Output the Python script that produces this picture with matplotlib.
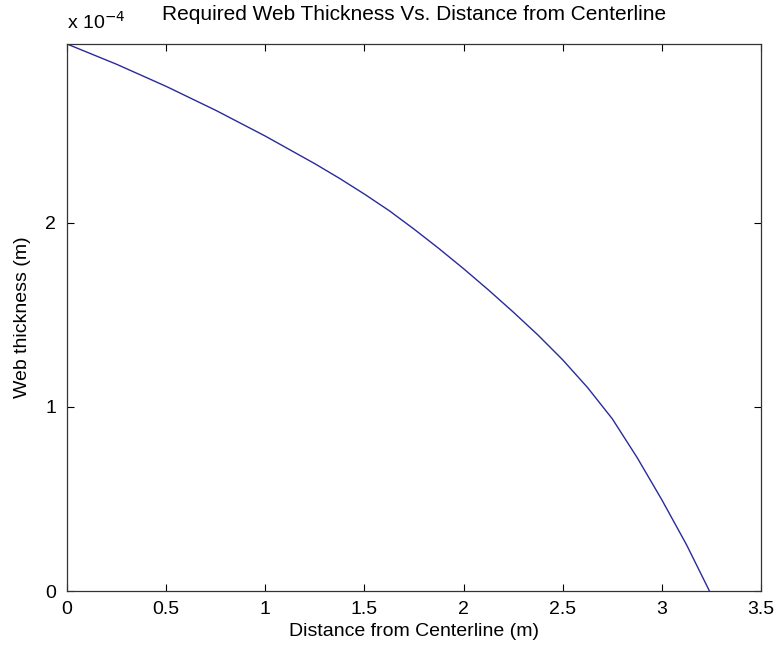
import matplotlib.pyplot as plt
import numpy as np

# distance from centerline (m) and required web thickness (x 1e-4 m)
distance = [0, 0.125, 0.25, 0.375, 0.5, 0.625, 0.75, 0.875, 1.0, 1.125, 1.25, 1.375,
            1.5, 1.625, 1.75, 1.875, 2.0, 2.125, 2.25, 2.375, 2.5, 2.625, 2.75,
            2.875, 3.0, 3.125, 3.24]
thickness = [2.970, 2.915, 2.860, 2.800, 2.740, 2.675, 2.610, 2.540, 2.470, 2.395,
             2.320, 2.240, 2.155, 2.065, 1.965, 1.860, 1.750, 1.635, 1.515, 1.390,
             1.255, 1.105, 0.935, 0.725, 0.495, 0.250, 0.0]

x_ticks = [0, 0.5, 1, 1.5, 2, 2.5, 3, 3.5]
x_tick_labels = ['0', '0.5', '1', '1.5', '2', '2.5', '3', '3.5']
y_ticks = [0, 1, 2]
y_tick_labels = ['0', '1', '2']

plt.rcParams['font.family'] = ['Liberation Sans', 'DejaVu Sans']

fig = plt.figure(figsize=(7.77, 6.49), dpi=100)
ax = fig.add_axes([67/777, 58/649, 694/777, 547/649])

ax.plot(distance, thickness, color='#2a2a9a', linewidth=1.0)

ax.set_xlim(0, 3.5)
ax.set_ylim(0, 2.97)
ax.set_xticks(x_ticks)
ax.set_xticklabels(x_tick_labels)
ax.set_yticks(y_ticks)
ax.set_yticklabels(y_tick_labels)
ax.tick_params(axis='x', pad=7)
ax.tick_params(axis='y', pad=8)
ax.tick_params(direction='in', top=True, right=True, labelsize=14, length=5, width=0.8)
for s in ax.spines.values():
    s.set_linewidth(0.9)
    s.set_color('#333333')

ax.set_title('Required Web Thickness Vs. Distance from Centerline', fontsize=15, pad=17)
ax.set_xlabel('Distance from Centerline (m)', fontsize=14, labelpad=4)
ax.set_ylabel('Web thickness (m)', fontsize=14, labelpad=10)
ax.text(0, 1.02, 'x 10$^{-4}$', transform=ax.transAxes, fontsize=14, ha='left', va='bottom')

fig.savefig('out.png', dpi=100)
